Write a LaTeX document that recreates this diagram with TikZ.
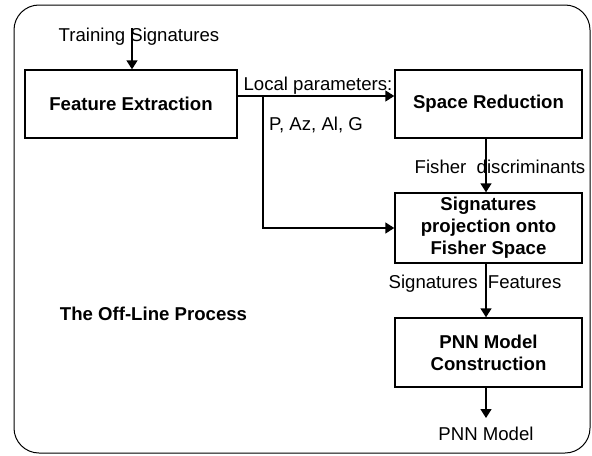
\documentclass[tikz,border=0pt]{standalone}
\usepackage{fontspec}
\setmainfont{Liberation Sans}
\usepackage{tikz}
\usetikzlibrary{arrows.meta}

\begin{document}
\begin{tikzpicture}[x=0.5pt, y=-0.5pt,
  font=\fontsize{9.3}{11}\selectfont,
  box/.style={draw, line width=0.7pt, align=center, inner sep=0pt,
    font=\fontsize{9.3}{11}\selectfont\bfseries,
    minimum width=93.5pt, minimum height=34pt},
  lbl/.style={inner sep=0pt, anchor=base},
  arr/.style={line width=0.7pt, -{Triangle[length=4.5pt, width=5.5pt]}}]

  \useasboundingbox (0,0) rectangle (592,455);

  % Frame
  \draw[line width=0.5pt, rounded corners=12.5pt] (14,5) rectangle (590,453);

  % Nodes
  \node[box, minimum width=106pt] (fe) at (131,104) {Feature Extraction};
  \node[box] (sr) at (488.5,104) {Space Reduction};
  \node[box, minimum height=35pt] (sp) at (488.5,228) {Signatures\\projection onto\\Fisher Space};
  \node[box, minimum height=34.5pt] (pnn) at (488.5,352.5) {PNN Model\\Construction};

  \node[lbl] (ts) at (139,41.5) {Training Signatures};
  \node[lbl] (lp) at (318,90.5) {Local parameters:};
  \node[lbl] (pa) at (316,130.5) {P, Az, Al, G};
  \node[lbl] (fd) at (500,173.5) {Fisher\ \ discriminants};
  \node[lbl] (sf) at (475,288.5) {Signatures\ \ Features};
  \node[lbl, font=\fontsize{9.3}{11}\selectfont\bfseries] (olp) at (153.5,320.5) {The Off-Line Process};
  \node[lbl] (pm) at (486,440.5) {PNN Model};

  \coordinate (tsin) at (132,28);
  \coordinate (split) at (263,96);
  \coordinate (pmend) at (486,418);

  % Edges
  \draw[arr] (tsin) -- (tsin |- fe.north);
  \draw[arr] (split -| fe.east) -- (split -| sr.west);
  \draw[arr] (split) |- (sp.west);
  \draw[arr] (sr.south -| pmend) -- (sp.north -| pmend);
  \draw[arr] (sp.south -| pmend) -- (pnn.north -| pmend);
  \draw[arr] (pnn.south -| pmend) -- (pmend);
\end{tikzpicture}
\end{document}
